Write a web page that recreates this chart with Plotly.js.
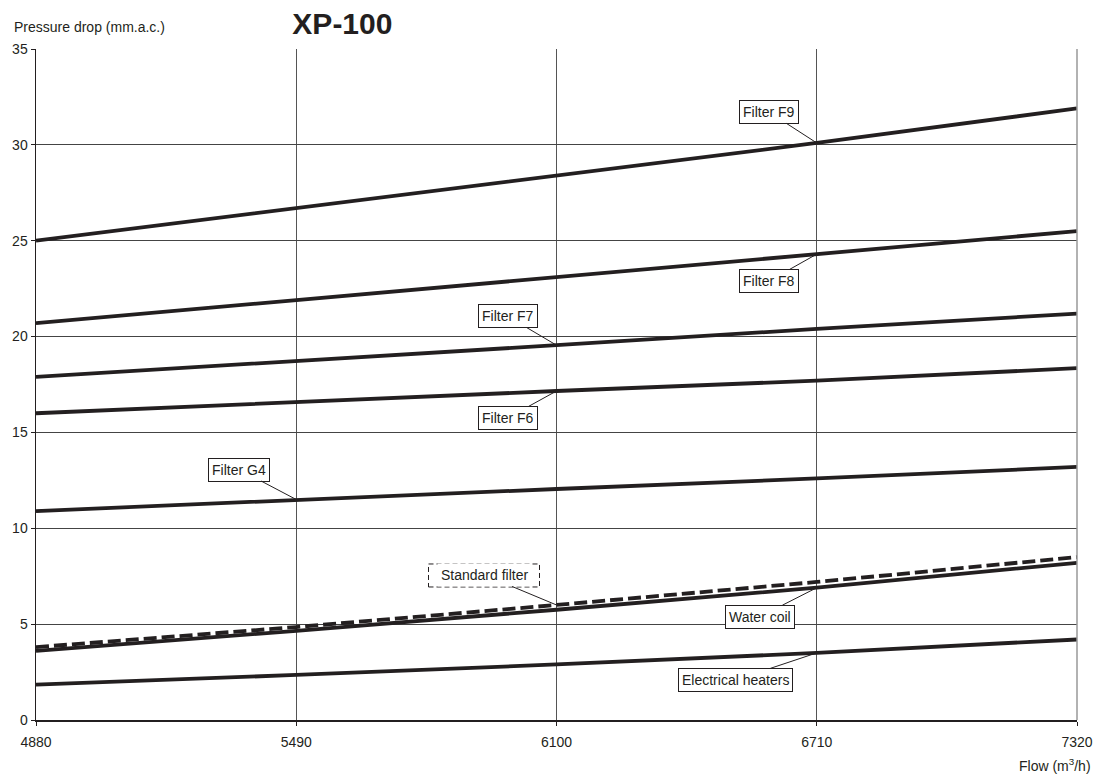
<!DOCTYPE html>
<html>
<head>
<meta charset="utf-8">
<script src="https://cdn.plot.ly/plotly-3.0.1.min.js"></script>
<style>html,body{margin:0;padding:0;background:#fff}#chart{width:1101px;height:776px}</style>
</head>
<body>
<div id="chart"></div>
<script>
const flow = [4880, 5490, 6100, 6710, 7320];
const filterF9 = [25.0, 26.7, 28.4, 30.1, 31.9];
const filterF8 = [20.7, 21.9, 23.1, 24.3, 25.5];
const filterF7 = [17.9, 18.7, 19.55, 20.4, 21.2];
const filterF6 = [16.0, 16.6, 17.16, 17.7, 18.35];
const filterG4 = [10.9, 11.5, 12.05, 12.6, 13.2];
const standardFilter = [3.8, 4.85, 6.0, 7.2, 8.5];
const waterCoil = [3.6, 4.65, 5.75, 6.9, 8.2];
const electricalHeaters = [1.85, 2.35, 2.9, 3.5, 4.2];
const yTicks = [0, 5, 10, 15, 20, 25, 30, 35];

const FONT = 'Liberation Sans, Arial, sans-serif';
const lineColor = '#231f20';
function tr(name, y, dash) {
  return {x: flow, y: y, name: name, mode: 'lines', type: 'scatter',
    line: {color: lineColor, width: 3.8, dash: dash || 'solid'}, hoverinfo: 'skip'};
}
const data = [
  tr('Filter F9', filterF9), tr('Filter F8', filterF8), tr('Filter F7', filterF7),
  tr('Filter F6', filterF6), tr('Filter G4', filterG4),
  tr('Standard filter', standardFilter, '13px,5px'),
  tr('Water coil', waterCoil), tr('Electrical heaters', electricalHeaters)
];

function lab(text, xi, series, ax, ay, border) {
  return {x: flow[xi], y: series[xi], xref: 'x', yref: 'y', text: text,
    showarrow: true, arrowhead: 0, arrowwidth: 1, arrowcolor: '#231f20',
    ax: ax, ay: ay, axref: 'pixel', ayref: 'pixel',
    bgcolor: '#ffffff', bordercolor: border === false ? 'rgba(0,0,0,0)' : '#231f20',
    borderwidth: 1, borderpad: 3,
    font: {family: FONT, size: 14, color: '#231f20'}};
}
const annotations = [
  lab('Filter F9', 3, filterF9, -48, -31),
  lab('Filter F8', 3, filterF8, -48, 27),
  lab('Filter F7', 2, filterF7, -49, -29),
  lab('Filter F6', 2, filterF6, -49, 27),
  lab('Filter G4', 1, filterG4, -57, -30),
  lab('Standard filter', 2, standardFilter, -72, -30, false),
  lab('Water coil', 3, waterCoil, -57, 29),
  lab('Electrical heaters', 3, electricalHeaters, -81, 27),
  {xref: 'paper', yref: 'paper', x: -0.023, y: 1.033, xanchor: 'left', yanchor: 'middle',
   text: 'Pressure drop (mm.a.c.)', showarrow: false,
   font: {family: FONT, size: 14, color: '#231f20'}},
  {xref: 'paper', yref: 'paper', x: 1.0154, y: -0.067, xanchor: 'right', yanchor: 'middle',
   text: 'Flow (m<sup>3</sup>/h)', showarrow: false,
   font: {family: FONT, size: 14, color: '#231f20'}}
];

const shapes = [
  {type: 'rect', xref: 'x', yref: 'y', xsizemode: 'pixel', ysizemode: 'pixel',
   xanchor: flow[2], yanchor: standardFilter[2],
   x0: -128, x1: -17, y0: 18, y1: 41,
   line: {color: '#231f20', width: 1, dash: '5px,3px'}, fillcolor: 'rgba(0,0,0,0)'},
  {type: 'line', xref: 'paper', yref: 'paper', x0: 1, x1: 1, y0: 0, y1: 1,
   line: {color: '#999999', width: 1.5}}
];

const layout = {
  width: 1101, height: 776,
  margin: {l: 36, r: 24, t: 49, b: 56},
  paper_bgcolor: '#ffffff', plot_bgcolor: '#ffffff',
  showlegend: false,
  title: {text: '<b>XP-100</b>', xref: 'container', yref: 'container', x: 0.311, xanchor: 'center', y: 0.970, yanchor: 'middle',
    font: {family: FONT, size: 30, color: '#231f20'}},
  xaxis: {range: [4880, 7320], tickvals: flow, ticktext: flow.map(String),
    showgrid: true, gridcolor: '#555555', gridwidth: 1, zeroline: false,
    showline: true, linecolor: '#231f20', linewidth: 1.5,
    ticks: 'outside', ticklen: 4, tickcolor: '#231f20', ticklabelstandoff: 5,
    tickfont: {family: FONT, size: 14, color: '#231f20'}},
  yaxis: {range: [0, 35], tickvals: yTicks,
    showgrid: true, gridcolor: '#444444', gridwidth: 1, zeroline: false,
    showline: true, linecolor: '#231f20', linewidth: 1.5,
    ticks: 'outside', ticklen: 4, tickcolor: '#231f20',
    tickfont: {family: FONT, size: 14, color: '#231f20'}},
  annotations: annotations,
  shapes: shapes
};
Plotly.newPlot('chart', data, layout, {displayModeBar: false, staticPlot: true});
</script>
</body>
</html>
